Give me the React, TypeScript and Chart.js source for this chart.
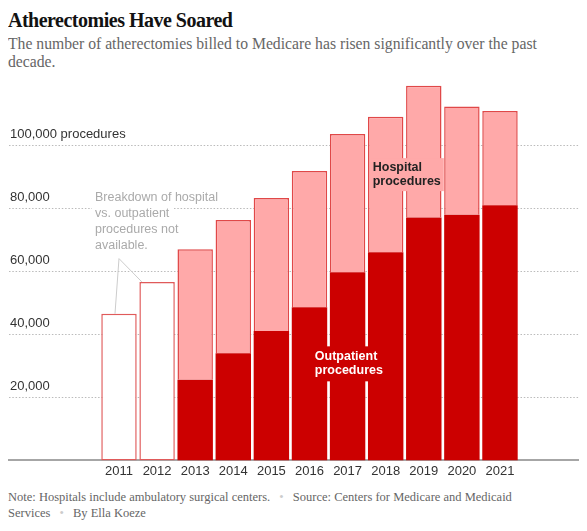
import { useEffect, useRef } from 'react';
import Chart from 'chart.js/auto';

const years = [2011, 2012, 2013, 2014, 2015, 2016, 2017, 2018, 2019, 2020, 2021];
const totals = [46500, 56600, 67000, 76200, 83200, 91800, 103500, 109000, 118800, 112200, 110800];
const outpatient = [null, null, 25600, 34000, 41000, 48600, 59700, 66000, 77000, 77900, 80900];
const yTicks = [20000, 40000, 60000, 80000, 100000];

const SANS = '"Liberation Sans", Arial, sans-serif';
const SERIF = '"Liberation Serif", "Times New Roman", serif';

// annotation anchors, in data units
const noteLines = ['Breakdown of hospital', 'vs. outpatient', 'procedures not', 'available.'];
const noteAt = { x: 2010.37, y: 83200 };
const noteApex = { x: 2011, y: 64000 };
const hospitalAt = { x: 2017.66, y: 93000 };
const outpatientAt = { x: 2016.14, y: 33000 };

const annotations = {
    id: 'annotations',
    afterDatasetsDraw(chart: any) {
        const { ctx } = chart;
        const xs = chart.scales.x;
        const ys = chart.scales.y;
        const px = (v: number) => xs.getPixelForValue(v);
        const py = (v: number) => ys.getPixelForValue(v);
        ctx.save();

        // grey note with pointer lines
        ctx.font = '12.5px ' + SANS;
        ctx.textBaseline = 'middle';
        const nx = px(noteAt.x);
        const ny = py(noteAt.y);
        ctx.fillStyle = '#fff';
        noteLines.forEach((t, i) => {
            const w = ctx.measureText(t).width;
            ctx.fillRect(nx - 3, ny + i * 16 - 8, w + 7, 16);
        });
        ctx.fillStyle = '#aaa';
        noteLines.forEach((t, i) => ctx.fillText(t, nx, ny + i * 16));
        ctx.strokeStyle = '#ccc';
        ctx.lineWidth = 1;
        ctx.beginPath();
        ctx.moveTo(px(2010.895), py(totals[0]));
        ctx.lineTo(px(noteApex.x), py(noteApex.y));
        ctx.lineTo(px(2011.6), py(totals[1]));
        ctx.stroke();

        // bold series labels
        ctx.font = 'bold 12.5px ' + SANS;
        const hx = px(hospitalAt.x);
        const hy = py(hospitalAt.y);
        const hw = ctx.measureText('procedures').width;
        ctx.fillStyle = '#ffa9a9';
        ctx.fillRect(hx - 2, hy - 9, hw + 5, 33);
        ctx.fillStyle = '#222';
        ctx.fillText('Hospital', hx, hy);
        ctx.fillText('procedures', hx, hy + 14);

        const ox = px(outpatientAt.x);
        const oy = py(outpatientAt.y);
        const ow = ctx.measureText('procedures').width;
        ctx.fillStyle = '#cc0000';
        ctx.fillRect(ox - 4, oy - 10, ow + 8, 35);
        ctx.fillStyle = '#fff';
        ctx.fillText('Outpatient', ox, oy);
        ctx.fillText('procedures', ox, oy + 14.5);
        ctx.restore();
    },
};

function AtherectomyChart() {
    const canvasRef = useRef<HTMLCanvasElement>(null);

    useEffect(() => {
        const hospital = totals.map((t, i) => (outpatient[i] == null ? null : t - (outpatient[i] as number)));
        const noSplit = totals.map((t, i) => (outpatient[i] == null ? t : null));

        const chart = new Chart(canvasRef.current as HTMLCanvasElement, {
            type: 'bar',
            data: {
                datasets: [
                    {
                        label: 'Outpatient',
                        data: years.map((y, i) => ({ x: y, y: outpatient[i] })),
                        backgroundColor: '#cc0000',
                        borderWidth: 0,
                        stack: 's',
                    },
                    {
                        label: 'Hospital',
                        data: years.map((y, i) => ({ x: y, y: hospital[i] })),
                        backgroundColor: '#ffa9a9',
                        borderColor: '#e04848',
                        borderWidth: 1.5,
                        borderSkipped: 'bottom',
                        stack: 's',
                    },
                    {
                        label: 'Total',
                        data: years.map((y, i) => ({ x: y, y: noSplit[i] })),
                        backgroundColor: '#fff',
                        borderColor: '#e05a5a',
                        borderWidth: 1.5,
                        borderSkipped: false,
                        stack: 's',
                    },
                ] as any,
            },
            options: {
                animation: false,
                responsive: true,
                maintainAspectRatio: false,
                layout: { padding: { left: 1, top: 2, right: 0, bottom: 0 } },
                datasets: { bar: { categoryPercentage: 1, barPercentage: 0.93 } },
                plugins: { legend: { display: false }, tooltip: { enabled: false } },
                scales: {
                    x: {
                        type: 'linear',
                        min: 2008.113,
                        max: 2023.074,
                        offset: false,
                        stacked: true,
                        z: 1,
                        afterBuildTicks: (scale: any) => {
                            scale.ticks = years.map((v) => ({ value: v }));
                        },
                        afterFit: (scale: any) => {
                            scale.paddingLeft = 0;
                            scale.paddingRight = 0;
                        },
                        grid: { display: false, drawTicks: false },
                        border: { display: true, color: '#a6a6a6', width: 2 },
                        ticks: {
                            padding: 3,
                            color: '#333',
                            font: { family: SANS, size: 13 },
                            callback: (v: any) => String(v),
                            maxRotation: 0,
                            autoSkip: false,
                        },
                    },
                    y: {
                        min: 0,
                        max: 120000,
                        stacked: true,
                        afterFit: (scale: any) => {
                            scale.width = 0;
                            scale.paddingTop = 0;
                            scale.paddingBottom = 0;
                        },
                        afterBuildTicks: (scale: any) => {
                            scale.ticks = yTicks.map((v) => ({ value: v }));
                        },
                        border: { display: false, dash: [1.5, 1.8] },
                        grid: { color: '#bbb', lineWidth: 1, drawTicks: false },
                        ticks: {
                            mirror: true,
                            padding: 1,
                            labelOffset: -10.5,
                            color: '#333',
                            font: { family: SANS, size: 13 },
                            callback: (v: any) =>
                                v === 100000 ? '100,000 procedures' : Number(v).toLocaleString('en-US'),
                        },
                    },
                },
            },
            plugins: [annotations],
        });
        return () => chart.destroy();
    }, []);

    return (
        <div style={{ width: 571, fontFamily: SERIF }}>
            <div style={{ height: 72 }}>
                <div style={{ fontSize: 20, fontWeight: 'bold', lineHeight: '24px', letterSpacing: '-0.5px', color: '#121212' }}>
                    Atherectomies Have Soared
                </div>
                <div style={{ fontSize: 15.7, lineHeight: '18px', marginTop: 3, color: '#666' }}>
                    The number of atherectomies billed to Medicare has risen significantly over the past
                    <br />
                    decade.
                </div>
            </div>
            <div style={{ height: 402, position: 'relative' }}>
                <canvas ref={canvasRef} />
            </div>
            <div style={{ marginTop: 7, fontSize: 12.5, lineHeight: '16px', color: '#666' }}>
                Note: Hospitals include ambulatory surgical centers.{' '}
                <span style={{ color: '#ccc', margin: '0 6px' }}>•</span> Source: Centers for Medicare and Medicaid
                <br />
                Services <span style={{ color: '#ccc', margin: '0 6px' }}>•</span> By Ella Koeze
            </div>
        </div>
    );
}

export default function App() {
    return <AtherectomyChart />;
}
